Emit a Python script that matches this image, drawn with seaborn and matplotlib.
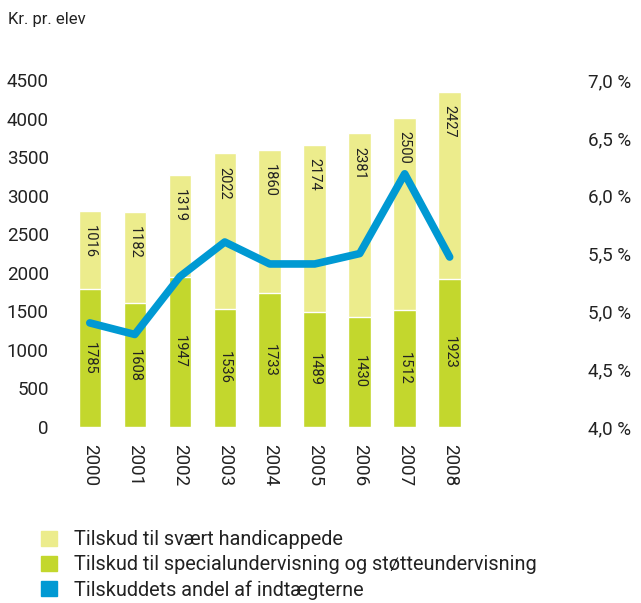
import matplotlib
matplotlib.use("Agg")
import matplotlib.pyplot as plt
from matplotlib.patches import Patch
import numpy as np
import pandas as pd
import seaborn as sns

# data
years = ["2000", "2001", "2002", "2003", "2004", "2005", "2006", "2007", "2008"]
special = [1785, 1608, 1947, 1536, 1733, 1489, 1430, 1512, 1923]
handicap = [1016, 1182, 1319, 2022, 1860, 2174, 2381, 2500, 2427]
share_pct = [4.90, 4.80, 5.30, 5.60, 5.41, 5.41, 5.50, 6.19, 5.47]

YELLOW = "#ECEC8C"
GREEN = "#C3D72D"
BLUE = "#0099D3"

sns.set_theme(style="white")
plt.rcParams["font.family"] = ["Roboto", "DejaVu Sans"]

df = pd.DataFrame({"year": years, "special": special, "handicap": handicap,
                   "share": share_pct})
df["total"] = df["special"] + df["handicap"]
df["pos"] = np.arange(len(df))

fig = plt.figure(figsize=(6.41, 6.03), dpi=100)
ax = fig.add_axes([0.098, 0.292, 0.807, 0.575])

sns.barplot(data=df, x="year", y="total", color=YELLOW, width=0.5,
            saturation=1, ax=ax, zorder=1)
sns.barplot(data=df, x="year", y="special", color=GREEN, width=0.5,
            saturation=1, ax=ax, zorder=2)

# value labels inside bars
for i, row in df.iterrows():
    ax.text(i, row["special"] / 2, str(row["special"]), rotation=-90,
            ha="center", va="center", fontsize=10.5, color="#222222", zorder=5)
    ax.text(i, row["total"] - 390, str(row["handicap"]), rotation=-90,
            ha="center", va="center", fontsize=10.5, color="#222222", zorder=5)

ax.set_xlim(-0.6, 10.9)
ax.set_ylim(0, 4500)
ax.set_yticks(range(0, 4501, 500))
ax.set_xlabel("")
ax.set_ylabel("")
ax.tick_params(axis="y", labelsize=13.5, pad=10, length=0, labelcolor="#222222")
ax.tick_params(axis="x", labelsize=13.5, rotation=-90, length=0, pad=12,
               labelcolor="#222222")
sns.despine(ax=ax, left=True, bottom=True, right=True, top=True)

ax2 = ax.twinx()
sns.lineplot(data=df, x="pos", y="share", color=BLUE, linewidth=5.5, ax=ax2,
             zorder=10)
ax2.set_ylim(4.0, 7.0)
ax2.set_yticks(np.arange(4.0, 7.01, 0.5))
ax2.set_yticklabels([f"{v:.1f} %".replace(".", ",") for v in np.arange(4.0, 7.01, 0.5)])
ax2.tick_params(axis="y", labelsize=13.5, pad=6, length=0, labelcolor="#222222")
ax2.set_ylabel("")
ax2.set_xlabel("")
ax2.set_xlim(-0.6, 10.9)
for s in ax2.spines.values():
    s.set_visible(False)

fig.text(0.012, 0.968, "Kr. pr. elev", fontsize=12, ha="left", va="center",
         color="#222222")

handles = [Patch(color=YELLOW), Patch(color=GREEN), Patch(color=BLUE)]
labels = ["Tilskud til svært handicappede",
          "Tilskud til specialundervisning og støtteundervisning",
          "Tilskuddets andel af indtægterne"]
fig.legend(handles, labels, loc="lower left", bbox_to_anchor=(0.036, -0.024),
           frameon=False, fontsize=14.3, handlelength=0.8, handleheight=0.8,
           handletextpad=0.85, labelspacing=0.3, labelcolor="#222222")

fig.savefig("out.png", dpi=100)
